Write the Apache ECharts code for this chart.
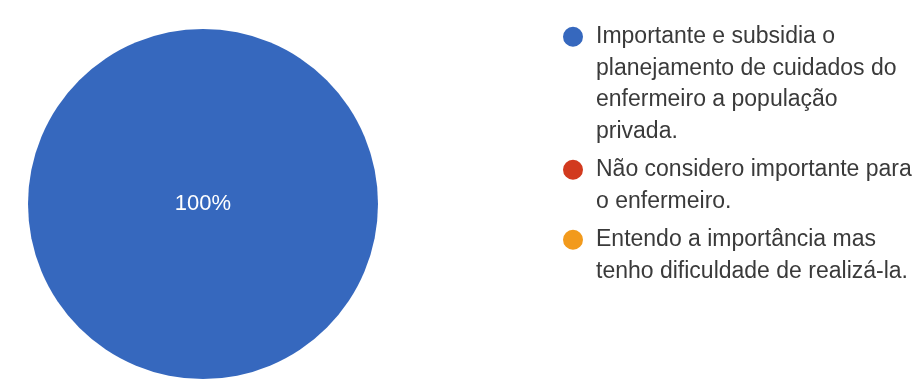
<!DOCTYPE html>
<html>
<head>
<meta charset="utf-8">
<script src="https://cdn.jsdelivr.net/npm/echarts@6/dist/echarts.min.js"></script>
<style>
html,body{margin:0;padding:0;background:#ffffff;}
#chart{width:918px;height:381px;}
</style>
</head>
<body>
<div id="chart"></div>
<script>
// ---- data ----
const categories = [
  'Importante e subsidia o planejamento de cuidados do enfermeiro a população privada.',
  'Não considero importante para o enfermeiro.',
  'Entendo a importância mas tenho dificuldade de realizá-la.'
];
const legendLines = [
  ['Importante e subsidia o', 'planejamento de cuidados do', 'enfermeiro a população', 'privada.'],
  ['Não considero importante para', 'o enfermeiro.'],
  ['Entendo a importância mas', 'tenho dificuldade de realizá-la.']
];
const values = [100, 0, 0];
const colors = ['#3668be', '#d23a1e', '#f29a1c'];

// ---- style ----
const LH = 31.6;
const FONT = '"Liberation Sans", Arial, sans-serif';
const iconW = 20;
const legendTops = [21, 154, 224];

function iconPath(n) {
  const h = n * LH;
  const c = LH / 2;
  return 'path://M0,0 M' + iconW + ',' + h.toFixed(2) +
    ' M0,' + c.toFixed(2) +
    ' A10,10 0 1,1 20,' + c.toFixed(2) +
    ' A10,10 0 1,1 0,' + c.toFixed(2) + ' Z';
}

const legends = categories.map((name, i) => ({
  show: true,
  orient: 'vertical',
  left: 563,
  top: legendTops[i],
  padding: 0,
  itemWidth: iconW,
  itemHeight: legendLines[i].length * LH,
  icon: iconPath(legendLines[i].length),
  selectedMode: false,
  data: [name],
  formatter: () => legendLines[i].join('\n'),
  textStyle: {
    fontFamily: FONT,
    fontSize: 23,
    lineHeight: LH,
    color: '#3a3a3a',
    padding: [0, 0, 0, 8]
  }
}));

const chart = echarts.init(document.getElementById('chart'), null, { renderer: 'canvas' });
chart.setOption({
  backgroundColor: '#ffffff',
  animation: false,
  color: colors,
  legend: legends,
  series: [{
    type: 'pie',
    center: [203, 204],
    radius: 175,
    startAngle: 90,
    avoidLabelOverlap: false,
    itemStyle: { borderWidth: 0 },
    emphasis: { disabled: true },
    label: {
      show: true,
      position: 'center',
      formatter: p => p.percent + '%',
      color: '#ffffff',
      fontFamily: FONT,
      fontSize: 22
    },
    labelLine: { show: false },
    data: categories.map((name, i) => ({
      name: name,
      value: values[i],
      label: { show: values[i] > 0 }
    }))
  }]
});
</script>
</body>
</html>
